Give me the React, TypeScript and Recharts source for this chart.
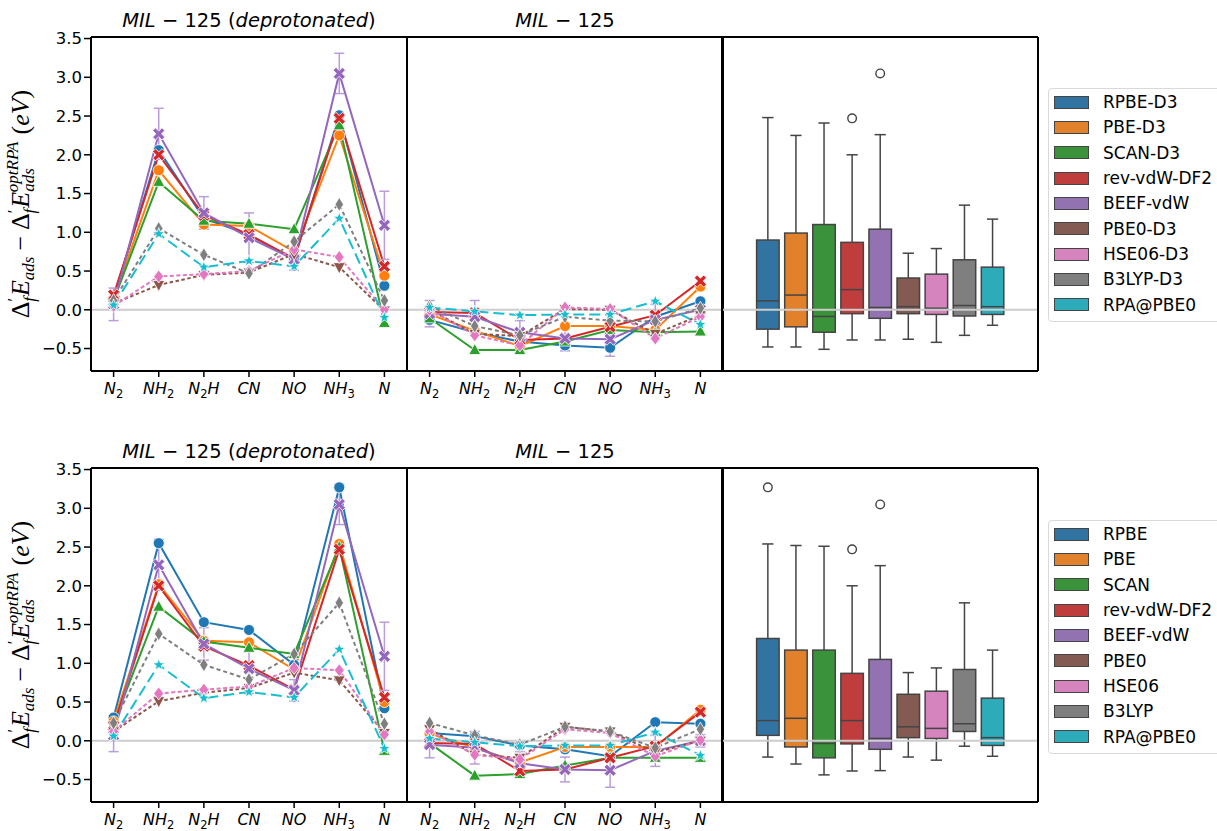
import React from 'react'
import { LineChart, Line, XAxis, YAxis, ReferenceLine, ErrorBar, BarChart, Bar } from 'recharts'

const CATEGORIES = ['N2', 'NH2', 'N2H', 'CN', 'NO', 'NH3', 'N']
const METHODS_D3 = ['RPBE-D3', 'PBE-D3', 'SCAN-D3', 'rev-vdW-DF2', 'BEEF-vdW', 'PBE0-D3', 'HSE06-D3', 'B3LYP-D3', 'RPA@PBE0']
const METHODS = ['RPBE', 'PBE', 'SCAN', 'rev-vdW-DF2', 'BEEF-vdW', 'PBE0', 'HSE06', 'B3LYP', 'RPA@PBE0']
const Y_TICKS = [-0.5, 0, 0.5, 1, 1.5, 2, 2.5, 3, 3.5]
const Y_DOMAIN = [-0.79, 3.52]

// one row per method (same order as METHODS), one column per adsorbate
const DEPROT_D3 = [
  [0.15, 2.06, 1.18, 0.97, 0.65, 2.51, 0.31],
  [0.14, 1.8, 1.1, 1.08, 0.75, 2.25, 0.44],
  [0.12, 1.65, 1.15, 1.11, 1.04, 2.38, -0.17],
  [0.19, 2.0, 1.22, 0.97, 0.66, 2.47, 0.56],
  [0.07, 2.27, 1.25, 0.93, 0.65, 3.05, 1.09],
  [0.08, 0.32, 0.45, 0.48, 0.72, 0.55, -0.01],
  [0.05, 0.43, 0.46, 0.5, 0.78, 0.68, 0.0],
  [0.12, 1.05, 0.71, 0.47, 0.88, 1.36, 0.12],
  [0.06, 0.98, 0.55, 0.63, 0.56, 1.18, -0.1],
]
const NEUTRAL_D3 = [
  [-0.13, -0.29, -0.41, -0.46, -0.49, -0.09, 0.11],
  [-0.06, -0.27, -0.47, -0.21, -0.21, -0.26, 0.3],
  [-0.11, -0.52, -0.52, -0.41, -0.26, -0.29, -0.28],
  [-0.03, -0.04, -0.39, -0.37, -0.22, -0.07, 0.37],
  [-0.05, -0.09, -0.29, -0.37, -0.38, -0.13, 0.0],
  [0.0, -0.31, -0.34, 0.01, 0.0, -0.31, -0.07],
  [0.0, -0.33, -0.46, 0.03, 0.01, -0.37, -0.09],
  [0.05, -0.21, -0.33, -0.09, -0.14, -0.15, 0.02],
  [0.03, -0.02, -0.07, -0.06, -0.06, 0.11, -0.19],
]
const DEPROT = [
  [0.3, 2.55, 1.53, 1.43, 0.98, 3.27, 0.42],
  [0.25, 2.02, 1.29, 1.27, 0.92, 2.54, 0.5],
  [0.22, 1.73, 1.28, 1.2, 1.12, 2.5, -0.13],
  [0.19, 2.0, 1.22, 0.97, 0.66, 2.47, 0.56],
  [0.07, 2.27, 1.25, 0.93, 0.65, 3.05, 1.09],
  [0.12, 0.51, 0.62, 0.68, 0.88, 0.78, 0.1],
  [0.12, 0.61, 0.66, 0.7, 0.94, 0.91, 0.08],
  [0.23, 1.38, 0.98, 0.79, 1.12, 1.78, 0.22],
  [0.06, 0.98, 0.55, 0.63, 0.56, 1.18, -0.1],
]
const NEUTRAL = [
  [0.1, 0.06, -0.06, -0.11, -0.2, 0.24, 0.22],
  [0.09, -0.09, -0.28, -0.08, -0.08, -0.08, 0.4],
  [-0.03, -0.45, -0.43, -0.32, -0.22, -0.22, -0.22],
  [-0.03, -0.04, -0.39, -0.37, -0.22, -0.07, 0.37],
  [-0.05, -0.09, -0.29, -0.37, -0.38, -0.13, 0.0],
  [0.15, -0.18, -0.22, 0.18, 0.12, -0.15, 0.0],
  [0.12, -0.18, -0.24, 0.15, 0.1, -0.2, 0.01],
  [0.23, 0.07, -0.05, 0.18, 0.12, -0.09, 0.15],
  [0.03, -0.02, -0.07, -0.06, -0.06, 0.11, -0.19],
]
const BEEF_ERR_DEPROT = [0.21, 0.33, 0.21, 0.32, 0.14, 0.26, 0.44]
const BEEF_ERR_NEUTRAL = [0.17, 0.21, 0.15, 0.16, 0.22, 0.2, 0.08]

// [lower whisker, q1, median, q3, upper whisker]
const BOX_D3 = [
  [-0.48, -0.25, 0.115, 0.9, 2.48],
  [-0.48, -0.22, 0.19, 0.99, 2.25],
  [-0.51, -0.29, -0.086, 1.1, 2.41],
  [-0.39, -0.05, 0.26, 0.87, 2.0],
  [-0.39, -0.11, 0.03, 1.04, 2.26],
  [-0.38, -0.05, 0.04, 0.41, 0.73],
  [-0.42, -0.06, 0.02, 0.46, 0.79],
  [-0.33, -0.08, 0.055, 0.645, 1.35],
  [-0.2, -0.06, 0.04, 0.55, 1.17],
]
const OUTLIERS_D3 = [[], [], [], [2.47], [3.05], [], [], [], []]
const BOX = [
  [-0.21, 0.07, 0.26, 1.32, 2.54],
  [-0.3, -0.08, 0.29, 1.17, 2.52],
  [-0.44, -0.22, -0.035, 1.17, 2.51],
  [-0.39, -0.04, 0.26, 0.87, 2.0],
  [-0.385, -0.11, 0.03, 1.05, 2.26],
  [-0.21, 0.04, 0.18, 0.6, 0.88],
  [-0.25, 0.03, 0.16, 0.64, 0.94],
  [-0.07, 0.12, 0.22, 0.92, 1.78],
  [-0.2, -0.06, 0.04, 0.55, 1.17],
]
const OUTLIERS = [[3.27], [], [], [2.47], [3.05], [], [], [], []]

const LINE_COLORS = ['#1f77b4', '#ff7f0e', '#2ca02c', '#d62728', '#9467bd', '#8c564b', '#e377c2', '#7f7f7f', '#17becf']
const BOX_COLORS = ['#3274a1', '#e1812c', '#3a923a', '#c03d3e', '#9372b2', '#845b53', '#d684bd', '#7f7f7f', '#2eabb8']
const MARKERS = ['circle', 'circle', 'triangle', 'x', 'x', 'tridown', 'diamond', 'thindiamond', 'star']
const DASHES = [undefined, undefined, undefined, undefined, undefined, '3.5 2.5', '4 2.5', '4 3', '11 5']

const FONT = 'DejaVu Sans'
const EDGE = '#444444'
const SPINE = { stroke: '#000', strokeWidth: 2 }
const TICKLINE = { stroke: '#000', strokeWidth: 1.5 }
const MARGIN = { top: 36, right: 12, bottom: 0, left: 0 }

const TICK_PARTS: Record<string, [string, boolean][]> = {
  N2: [['N', false], ['2', true]],
  NH2: [['NH', false], ['2', true]],
  N2H: [['N', false], ['2', true], ['H', false]],
  CN: [['CN', false]],
  NO: [['NO', false]],
  NH3: [['NH', false], ['3', true]],
  N: [['N', false]],
}

const fmt = (v: number) => (v < 0 ? '\u2212' : '') + Math.abs(v).toFixed(1)

function Marker({ cx, cy, kind, color }: any) {
  if (cx == null || cy == null) return null
  const stroke = '#ffffff'
  const sw = 0.8
  if (kind === 'circle') return <circle cx={cx} cy={cy} r={5.5} fill={color} stroke={stroke} strokeWidth={sw} />
  let pts: number[][] = []
  if (kind === 'triangle') pts = [[0, -6.5], [6, 4.5], [-6, 4.5]]
  if (kind === 'tridown') pts = [[0, 6.5], [6, -4.5], [-6, -4.5]]
  if (kind === 'diamond') pts = [[0, -6.5], [5, 0], [0, 6.5], [-5, 0]]
  if (kind === 'thindiamond') pts = [[0, -7], [4.2, 0], [0, 7], [-4.2, 0]]
  if (kind === 'x') {
    const L = 6.6
    const w = 2
    const c = Math.SQRT1_2
    pts = [[w, w], [w, L], [-w, L], [-w, w], [-L, w], [-L, -w], [-w, -w], [-w, -L], [w, -L], [w, -w], [L, -w], [L, w]].map(
      ([x, y]) => [(x - y) * c, (x + y) * c]
    )
  }
  if (kind === 'star') {
    for (let k = 0; k < 10; k++) {
      const r = k % 2 === 0 ? 6.2 : 2.6
      const a = -Math.PI / 2 + (k * Math.PI) / 5
      pts.push([r * Math.cos(a), r * Math.sin(a)])
    }
  }
  return (
    <polygon
      points={pts.map(([x, y]) => `${cx + x},${cy + y}`).join(' ')}
      fill={color}
      stroke={stroke}
      strokeWidth={sw}
    />
  )
}

function CatTick(props: any) {
  const { x, y, payload } = props
  const parts = TICK_PARTS[payload.value] ?? [[String(payload.value), false]]
  let prevSub = false
  return (
    <text x={x} y={y + 15} textAnchor="middle" fontFamily={FONT} fontSize={16} fill="#000">
      {parts.map(([t, sub], k) => {
        const dy = sub ? 4 : prevSub ? -4 : 0
        prevSub = sub
        return sub ? (
          <tspan key={k} fontSize={11.5} dy={dy}>
            {t}
          </tspan>
        ) : (
          <tspan key={k} fontStyle="italic" dy={dy}>
            {t}
          </tspan>
        )
      })}
    </text>
  )
}

function renderYLabel(props: any) {
  const vb = props.viewBox
  const x = vb.x + 29
  const y = vb.y + vb.height / 2
  return (
    <text
      transform={`rotate(-90 ${x} ${y})`}
      x={x}
      y={y}
      textAnchor="middle"
      fontFamily="Liberation Serif"
      fontSize={26}
      fill="#000"
    >
      <tspan>Δ</tspan>
      <tspan fontSize={17} dy={-10}>′</tspan>
      <tspan fontSize={17} fontStyle="italic" dx={-4} dy={16}>f</tspan>
      <tspan fontStyle="italic" dx={1} dy={-6}>E</tspan>
      <tspan fontSize={17} fontStyle="italic" dy={5}>ads</tspan>
      <tspan dx={6} dy={-5}>−</tspan>
      <tspan dx={6}>Δ</tspan>
      <tspan fontSize={17} dy={-10}>′</tspan>
      <tspan fontSize={17} fontStyle="italic" dx={-4} dy={16}>f</tspan>
      <tspan fontStyle="italic" dx={1} dy={-6}>E</tspan>
      <tspan fontSize={17} fontStyle="italic" dy={5}>ads</tspan>
      <tspan fontSize={17} fontStyle="italic" dx={-24} dy={-16}>optRPA</tspan>
      <tspan dx={7} dy={11}>(</tspan>
      <tspan fontStyle="italic">eV</tspan>
      <tspan>)</tspan>
    </text>
  )
}

const titleContent = (deprot: boolean) => (props: any) => {
  const { x, y, width } = props.viewBox
  return (
    <text x={x + width / 2} y={y - 9} textAnchor="middle" fontFamily={FONT} fontSize={19.5} fill="#000" style={{ whiteSpace: 'pre' }}>
      <tspan fontStyle="italic">MIL</tspan>
      <tspan>{' \u2212 125'}</tspan>
      {deprot && <tspan>{' ('}</tspan>}
      {deprot && <tspan fontStyle="italic">deprotonated</tspan>}
      {deprot && <tspan>)</tspan>}
    </text>
  )
}

// top and right spines drawn as bare axes
function frameAxes(title?: (p: any) => React.ReactNode) {
  return [
    <XAxis key="top" xAxisId="top" orientation="top" height={1} axisLine={SPINE} tick={false} tickLine={false} label={title} />,
    <YAxis key="right" yAxisId="right" orientation="right" width={1} domain={Y_DOMAIN} axisLine={SPINE} tick={false} tickLine={false} />,
  ]
}

function LinePanel({ left, top, values, beefErr, deprot, first }: any) {
  const data = CATEGORIES.map((cat, i) => {
    const row: Record<string, any> = { cat, err: beefErr[i] }
    values.forEach((s: number[], j: number) => {
      row['s' + j] = s[i]
    })
    return row
  })
  return (
    <div style={{ position: 'absolute', left: left - 91, top: top - 37 }}>
      <LineChart width={420} height={410} data={data} margin={MARGIN}>
        <XAxis
          dataKey="cat"
          padding={{ left: 22.6, right: 22.6 }}
          interval={0}
          height={39}
          axisLine={SPINE}
          tickLine={TICKLINE}
          tickSize={6}
          tick={<CatTick />}
        />
        <YAxis
          width={91}
          type="number"
          domain={Y_DOMAIN}
          ticks={Y_TICKS}
          interval={0}
          allowDataOverflow
          axisLine={SPINE}
          tickLine={TICKLINE}
          tickSize={7}
          tick={first ? { fill: '#000', fontSize: 16.5, fontFamily: FONT } : false}
          tickFormatter={fmt}
          label={first ? renderYLabel : undefined}
        />
        {frameAxes(titleContent(deprot))}
        <ReferenceLine y={0} stroke="#cccccc" strokeWidth={2} />
        {values.map((_: number[], j: number) => (
          <Line
            key={j}
            dataKey={'s' + j}
            stroke={LINE_COLORS[j]}
            strokeWidth={2}
            strokeDasharray={DASHES[j]}
            dot={(p: any) => <Marker key={p.index} cx={p.cx} cy={p.cy} kind={MARKERS[j]} color={LINE_COLORS[j]} />}
            activeDot={false}
            isAnimationActive={false}
          >
            {j === 4 && <ErrorBar dataKey="err" direction="y" width={5} stroke="#b99ddb" strokeWidth={1.5} />}
          </Line>
        ))}
      </LineChart>
    </div>
  )
}

function BoxShape(props: any) {
  const { x, y, width, height } = props
  const p = props.payload ?? props
  const st: number[] = p.stats
  const top = Math.min(y, y + height)
  const bot = Math.max(y, y + height)
  const ppu = (bot - top) / (st[4] - st[0])
  const py = (v: number) => bot - (v - st[0]) * ppu
  const cx = x + width / 2
  const hw = width / 2
  const cw = width / 4
  return (
    <g>
      <line x1={cx} x2={cx} y1={py(st[4])} y2={py(st[3])} stroke={EDGE} strokeWidth={1.5} />
      <line x1={cx} x2={cx} y1={py(st[1])} y2={py(st[0])} stroke={EDGE} strokeWidth={1.5} />
      <line x1={cx - cw} x2={cx + cw} y1={py(st[4])} y2={py(st[4])} stroke={EDGE} strokeWidth={1.5} />
      <line x1={cx - cw} x2={cx + cw} y1={py(st[0])} y2={py(st[0])} stroke={EDGE} strokeWidth={1.5} />
      <rect x={cx - hw} y={py(st[3])} width={width} height={py(st[1]) - py(st[3])} fill={p.color} stroke={EDGE} strokeWidth={1.5} />
      <line x1={cx - hw} x2={cx + hw} y1={py(st[2])} y2={py(st[2])} stroke={EDGE} strokeWidth={1.5} />
      {(p.out as number[]).map((v, k) => (
        <circle key={k} cx={cx} cy={py(v)} r={4.3} fill="none" stroke={EDGE} strokeWidth={1.4} />
      ))}
    </g>
  )
}

function BoxPanel({ left, top, stats, outliers }: any) {
  const data = METHODS.map((m, i) => ({
    name: m,
    range: [stats[i][0], stats[i][4]],
    stats: stats[i],
    out: outliers[i],
    color: BOX_COLORS[i],
  }))
  return (
    <div style={{ position: 'absolute', left: left - 91, top: top - 37 }}>
      <BarChart width={420} height={410} data={data} margin={MARGIN} barSize={22.5}>
        <XAxis
          dataKey="name"
          padding={{ left: 31.6, right: 31.6 }}
          ticks={['BEEF-vdW']}
          interval={0}
          height={39}
          axisLine={SPINE}
          tickLine={TICKLINE}
          tickSize={6}
          tick={false}
        />
        <YAxis
          width={91}
          type="number"
          domain={Y_DOMAIN}
          ticks={Y_TICKS}
          interval={0}
          allowDataOverflow
          axisLine={SPINE}
          tickLine={TICKLINE}
          tickSize={7}
          tick={false}
        />
        {frameAxes()}
        <ReferenceLine y={0} stroke="#cccccc" strokeWidth={2} />
        <Bar dataKey="range" shape={BoxShape} isAnimationActive={false} />
      </BarChart>
    </div>
  )
}

function LegendBox({ top, labels }: { top: number; labels: string[] }) {
  return (
    <div
      style={{
        position: 'absolute',
        left: 1048,
        top,
        width: 200,
        height: 234,
        border: '1px solid #d9d9d9',
        borderRadius: 4,
        background: '#fff',
        boxSizing: 'border-box',
      }}
    >
      {labels.map((l, i) => (
        <div
          key={l}
          style={{ position: 'absolute', left: 5, top: 6 + i * 25.35, height: 14, display: 'flex', alignItems: 'center' }}
        >
          <div style={{ width: 35, height: 13, background: BOX_COLORS[i], border: `1.3px solid ${EDGE}`, boxSizing: 'border-box' }} />
          <span style={{ marginLeft: 14, fontFamily: FONT, fontSize: 17, color: '#000', whiteSpace: 'nowrap' }}>{l}</span>
        </div>
      ))}
    </div>
  )
}

export default function App() {
  return (
    <div style={{ position: 'absolute', left: 0, top: 0, width: 1217, height: 831, overflow: 'hidden', background: '#fff' }}>
      <LinePanel left={91} top={37} values={DEPROT_D3} beefErr={BEEF_ERR_DEPROT} deprot first />
      <LinePanel left={407} top={37} values={NEUTRAL_D3} beefErr={BEEF_ERR_NEUTRAL} deprot={false} first={false} />
      <BoxPanel left={722} top={37} stats={BOX_D3} outliers={OUTLIERS_D3} />
      <LegendBox top={88} labels={METHODS_D3} />
      <LinePanel left={91} top={468} values={DEPROT} beefErr={BEEF_ERR_DEPROT} deprot first />
      <LinePanel left={407} top={468} values={NEUTRAL} beefErr={BEEF_ERR_NEUTRAL} deprot={false} first={false} />
      <BoxPanel left={722} top={468} stats={BOX} outliers={OUTLIERS} />
      <LegendBox top={520} labels={METHODS} />
    </div>
  )
}
